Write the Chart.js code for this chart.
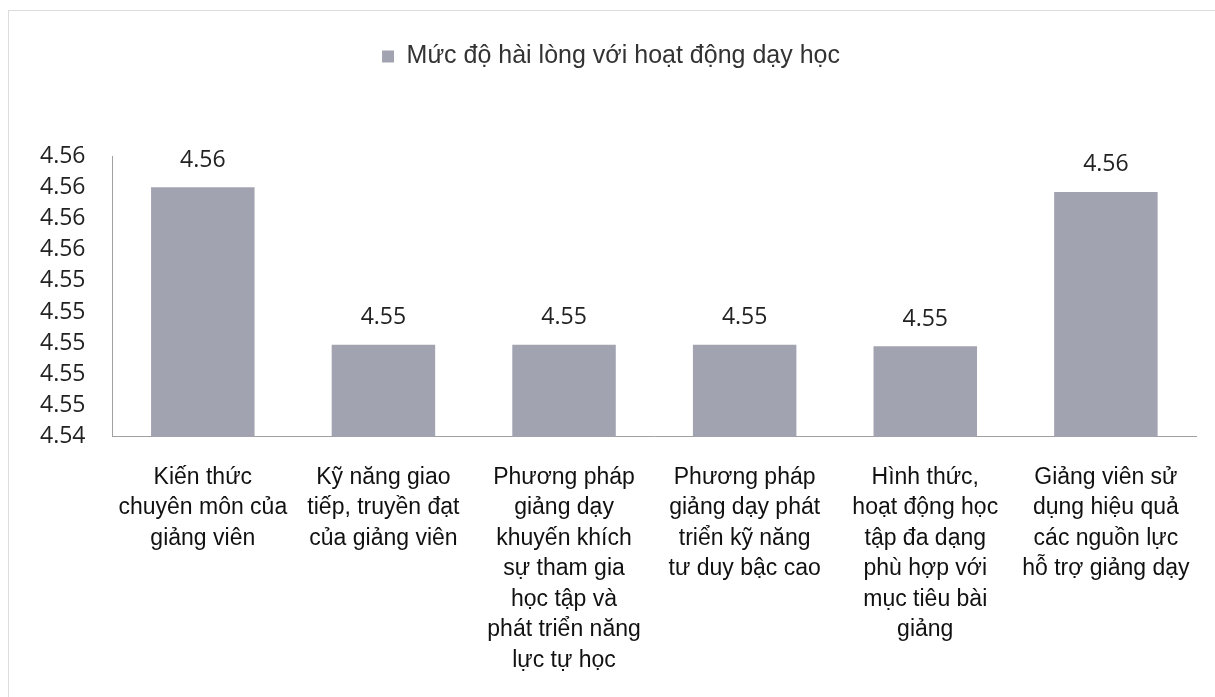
<!DOCTYPE html>
<html>
<head>
<meta charset="utf-8">
<script src="https://cdn.jsdelivr.net/npm/chart.js@4"></script>
<style>
  html, body { margin: 0; padding: 0; background: #fff; }
  #wrap { width: 1215px; height: 697px; position: relative; }
</style>
</head>
<body>
<div id="wrap"><canvas id="chart" width="1215" height="697"></canvas></div>
<script>
// Categories (multi-line, as in the original)
const categories = [
    ['Kiến thức', 'chuyên môn của', 'giảng viên'],
    ['Kỹ năng giao', 'tiếp, truyền đạt', 'của giảng viên'],
    ['Phương pháp', 'giảng dạy', 'khuyến khích', 'sự tham gia', 'học tập và', 'phát triển năng', 'lực tự học'],
    ['Phương pháp', 'giảng dạy phát', 'triển kỹ năng', 'tư duy bậc cao'],
    ['Hình thức,', 'hoạt động học', 'tập đa dạng', 'phù hợp với', 'mục tiêu bài', 'giảng'],
    ['Giảng viên sử', 'dụng hiệu quả', 'các nguồn lực', 'hỗ trợ giảng dạy']
];
const seriesName = 'Mức độ hài lòng với hoạt động dạy học';
const satisfaction = [4.5600, 4.5499, 4.5499, 4.5499, 4.5498, 4.5597];

// Y axis range
const yMin = 4.544;
const yMax = 4.562;
const yStep = 0.002;

const barColor = '#a2a3b0';

// Draws value above each bar
const valueLabels = {
    id: 'valueLabels',
    afterDatasetsDraw(chart) {
        const ctx = chart.ctx;
        const meta = chart.getDatasetMeta(0);
        ctx.save();
        ctx.font = '23px "Open Sans"';
        ctx.fillStyle = '#222';
        ctx.textAlign = 'center';
        ctx.textBaseline = 'middle';
        meta.data.forEach((bar, i) => {
            ctx.fillText(satisfaction[i].toFixed(2), bar.x, bar.y - 27);
        });
        ctx.restore();
    }
};

// Extra room under the legend
const legendMargin = {
    id: 'legendMargin',
    beforeInit(chart) {
        const fit = chart.legend.fit;
        chart.legend.fit = function () {
            fit.bind(chart.legend)();
            this.height += 77;
        };
    }
};

// Faint frame round the picture
const frame = {
    id: 'frame',
    beforeDraw(chart) {
        const ctx = chart.ctx;
        ctx.save();
        ctx.strokeStyle = '#dcdcdc';
        ctx.lineWidth = 1;
        ctx.strokeRect(8.5, 10.5, 1215, 700);
        ctx.restore();
    }
};

new Chart(document.getElementById('chart').getContext('2d'), {
    type: 'bar',
    data: {
        labels: categories,
        datasets: [{
            label: seriesName,
            data: satisfaction,
            backgroundColor: barColor,
            borderWidth: 0,
            barPercentage: 0.573,
            categoryPercentage: 1
        }]
    },
    options: {
        responsive: false,
        animation: false,
        layout: { padding: { top: 34, left: 13, right: 6, bottom: -4 } },
        plugins: {
            legend: {
                position: 'top',
                labels: {
                    boxWidth: 12,
                    boxHeight: 12,
                    padding: 10,
                    color: '#333',
                    font: { family: '"Liberation Sans", Arial', size: 25 }
                }
            },
            tooltip: { enabled: false }
        },
        scales: {
            x: {
                grid: { display: false, drawTicks: false },
                border: { color: '#a0a0a0', width: 1 },
                ticks: {
                    maxRotation: 0,
                    autoSkip: false,
                    padding: 25,
                    color: '#111',
                    font: { family: '"Liberation Sans", Arial', size: 23, lineHeight: 1.33 }
                }
            },
            y: {
                min: yMin,
                max: yMax,
                grid: { display: false, drawTicks: false },
                border: { color: '#a0a0a0', width: 1 },
                ticks: {
                    stepSize: yStep,
                    padding: 27,
                    color: '#222',
                    font: { family: '"Open Sans"', size: 23 },
                    callback: v => Number(v).toFixed(2)
                }
            }
        }
    },
    plugins: [valueLabels, legendMargin, frame]
});
</script>
</body>
</html>
